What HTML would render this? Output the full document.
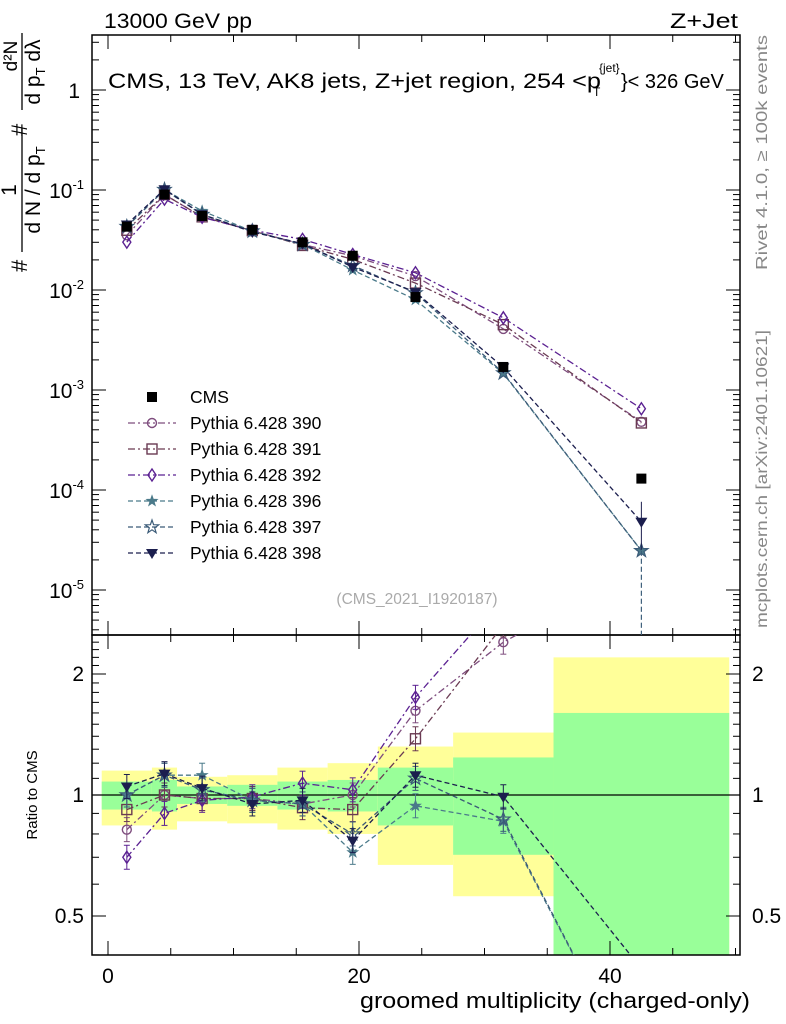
<!DOCTYPE html>
<html><head><meta charset="utf-8">
<style>
html,body{margin:0;padding:0;background:#fff;overflow:hidden;width:786px;height:1024px;}
svg{display:block;}
svg text{font-family:"Liberation Sans",sans-serif;}
</style></head>
<body>
<svg id="c" width="786" height="1024" viewBox="0 0 786 1024" xmlns="http://www.w3.org/2000/svg">
<text x="104" y="28" font-size="21" textLength="148" lengthAdjust="spacingAndGlyphs">13000 GeV pp</text>
<text x="670" y="28" font-size="21" textLength="68" lengthAdjust="spacingAndGlyphs">Z+Jet</text>
<g>
<text x="108" y="88" font-size="21" textLength="493" lengthAdjust="spacingAndGlyphs">CMS, 13 TeV, AK8 jets, Z+jet region, 254 &lt;p</text>
<text x="593" y="96" font-size="12">T</text>
<text x="599" y="72" font-size="12">{jet}</text>
<text x="621" y="88" font-size="20" font-weight="bold" style="font-weight:normal">}&lt; 326 GeV</text>
</g>
<text transform="translate(767,270) rotate(-90)" font-size="16" fill="#888" textLength="235" lengthAdjust="spacingAndGlyphs">Rivet 4.1.0, ≥ 100k events</text>
<text transform="translate(767,628) rotate(-90)" font-size="16" fill="#888" textLength="298" lengthAdjust="spacingAndGlyphs">mcplots.cern.ch [arXiv:2401.10621]</text>
<text x="417" y="604" font-size="15.5" fill="#aaa" text-anchor="middle">(CMS_2021_I1920187)</text>
<g>
<text transform="translate(27,272) rotate(-90)" font-size="22">#</text>
<text transform="translate(16,190) rotate(-90)" font-size="21" text-anchor="middle">1</text>
<line x1="22" y1="128" x2="22" y2="252" stroke="#000" stroke-width="1.3"/>
<text transform="translate(40,190) rotate(-90)" font-size="21" text-anchor="middle">d N / d p<tspan font-size="13" dy="5">T</tspan></text>
<text transform="translate(27,136) rotate(-90)" font-size="22">#</text>
<text transform="translate(17,56) rotate(-90)" font-size="19" text-anchor="middle">d²N</text>
<line x1="22" y1="33" x2="22" y2="110" stroke="#000" stroke-width="1.3"/>
<text transform="translate(40,72) rotate(-90)" font-size="21" text-anchor="middle">d p<tspan font-size="13" dy="5">T</tspan><tspan dy="-5"> dλ</tspan></text>
</g>
<text transform="translate(37,795) rotate(-90)" font-size="15" text-anchor="middle">Ratio to CMS</text>
<text x="360" y="1008" font-size="22" textLength="390" lengthAdjust="spacingAndGlyphs">groomed multiplicity (charged-only)</text>
<g id="g"></g>
</svg>
<script>
const centers=[1.5,4.5,7.5,11.5,15.5,19.5,24.5,31.5,42.5];
const edges=[-0.5,3.5,5.5,9.5,13.5,17.5,21.5,27.5,35.5,49.5];
const cms=[0.043,0.090,0.055,0.040,0.030,0.022,0.0085,0.0017,0.00013];
const r390=[0.82,1.0,0.98,0.98,0.95,1.0,1.62,2.4,3.7];
const r391=[0.92,1.0,0.98,0.98,0.93,0.92,1.38,2.65,3.6];
const r392=[0.70,0.90,0.97,0.99,1.07,1.03,1.75,3.1,5.0];
const r396=[1.0,1.12,1.12,0.97,0.95,0.72,0.94,0.86,0.19];
const r397=[1.0,1.12,1.03,0.97,0.95,0.80,1.10,0.87,0.19];
const r398=[1.05,1.13,1.04,0.95,0.97,0.77,1.12,0.99,0.37];
const yelUp=[1.15,1.17,1.11,1.12,1.17,1.20,1.32,1.43,2.2];
const yelLo=[0.84,0.82,0.86,0.85,0.82,0.80,0.67,0.56,0.3];
const grnUp=[1.08,1.09,1.05,1.06,1.08,1.09,1.17,1.24,1.6];
const grnLo=[0.92,0.91,0.95,0.94,0.92,0.91,0.84,0.71,0.3];
const yTicks=["10<tspan font-size='13' dy='-9'>-5</tspan>","10<tspan font-size='13' dy='-9'>-4</tspan>","10<tspan font-size='13' dy='-9'>-3</tspan>","10<tspan font-size='13' dy='-9'>-2</tspan>","10<tspan font-size='13' dy='-9'>-1</tspan>","1"];
const NS="http://www.w3.org/2000/svg",G=document.getElementById('g');
const L=92,R=740,T=35,MB=635,RB=955;
const X=v=>108+v*12.55;
const Y=v=>90-100*Math.log10(v);
const YR=v=>795-121*Math.log2(v);
function el(t,a,p){const e=document.createElementNS(NS,t);for(const k in a)e.setAttribute(k,a[k]);(p||G).appendChild(e);return e;}
const defs=el('defs',{});
const c1=el('clipPath',{id:'cm'},defs);el('rect',{x:L,y:T,width:R-L,height:MB-T},c1);
const c2=el('clipPath',{id:'cr'},defs);el('rect',{x:L,y:MB,width:R-L,height:RB-MB},c2);
const clamp=v=>Math.max(0.3,Math.min(3,v));
const bands=el('g',{'clip-path':'url(#cr)'});


for(let i=0;i<9;i++){
 const x0=X(edges[i]),x1=X(edges[i+1]);
 const b=el('rect',{x:x0,y:YR(yelUp[i]),width:x1-x0,height:YR(clamp(yelLo[i]))-YR(yelUp[i]),fill:'#ffff99'},bands);
 
 
 const g2=el('rect',{x:x0,y:YR(grnUp[i]),width:x1-x0,height:YR(clamp(grnLo[i]))-YR(grnUp[i]),fill:'#99ff99'},bands);
 
 
}
el('line',{x1:L,x2:R,y1:YR(1),y2:YR(1),stroke:'#000','stroke-width':1.2});
el('rect',{x:L,y:T,width:R-L,height:MB-T,fill:'none',stroke:'#000','stroke-width':1.5});
el('rect',{x:L,y:MB,width:R-L,height:RB-MB,fill:'none',stroke:'#000','stroke-width':1.5});
for(let v=0;v<=50;v+=5){const x=X(v),maj=v%20==0,len=maj?14:7;
 for(const[y0,d] of [[T,1],[MB,-1],[MB,1],[RB,-1]]) el('line',{x1:x,x2:x,y1:y0,y2:y0+d*len,stroke:'#000'});
 if(maj){const t=el('text',{x:x,y:983,'font-size':21,'text-anchor':'middle'});t.textContent=v;
 
 }
}
for(let e=-6;e<=0;e++){for(let m=1;m<10;m++){const v=m*Math.pow(10,e),y=Y(v);if(y<T||y>MB)continue;const len=m==1?14:7;
 el('line',{x1:L,x2:L+len,y1:y,y2:y,stroke:'#000'});el('line',{x1:R,x2:R-len,y1:y,y2:y,stroke:'#000'});}}
yTicks.forEach((s,i)=>{const t=el('text',{x:i==5?80:84,y:Y(Math.pow(10,i-5))+8,'font-size':21,'text-anchor':'end'});t.innerHTML=s;
 
 });
for(const v of [0.4,0.5,0.6,0.7,0.8,0.9,1,1.1,1.2,1.3,1.4,1.5,1.6,1.7,1.8,1.9,2,2.1,2.2,2.3,2.4]){const y=YR(v);const maj=[0.5,1,2].includes(v);const len=maj?14:7;
 el('line',{x1:L,x2:L+len,y1:y,y2:y,stroke:'#000'});el('line',{x1:R,x2:R-len,y1:y,y2:y,stroke:'#000'});
 if(maj){for(const [x,a] of [[84,'end'],[752,'start']]){const t=el('text',{x:x,y:y+7,'font-size':21,'text-anchor':a});t.textContent=v;
 
 }}}
const series=[
 {n:'390',r:r390,c:'#7e4d7e',m:'circle',d:'7,3,2,3'},
 {n:'391',r:r391,c:'#6a3a52',m:'square',d:'7,3,2,3'},
 {n:'392',r:r392,c:'#5b2192',m:'diamond',d:'7,3,2,3'},
 {n:'396',r:r396,c:'#4b7a8a',m:'star',d:'5,3'},
 {n:'397',r:r397,c:'#3b5b78',m:'star2',d:'5,3'},
 {n:'398',r:r398,c:'#1b1e4e',m:'tri',d:'5,3'}];
function marker(type,x,y,c,p){
 if(type=='circle')return el('circle',{cx:x,cy:y,r:4.5,fill:'none',stroke:c,'stroke-width':1.4},p);
 if(type=='square')return el('rect',{x:x-5,y:y-5,width:10,height:10,fill:'none',stroke:c,'stroke-width':1.4},p);
 if(type=='diamond')return el('polygon',{points:`${x},${y-6} ${x+4},${y} ${x},${y+6} ${x-4},${y}`,fill:'none',stroke:c,'stroke-width':1.4},p);
 if(type=='tri')return el('polygon',{points:`${x-6},${y-4} ${x+6},${y-4} ${x},${y+6}`,fill:c},p);
 if(type=='blk')return el('rect',{x:x-5,y:y-5,width:10,height:10,fill:'#000'},p);
 const rr=type=='star'?5:7,pts=[];for(let k=0;k<10;k++){const a=-Math.PI/2+k*Math.PI/5,q=k%2?rr*0.4:rr;pts.push((x+q*Math.cos(a)).toFixed(1)+','+(y+q*Math.sin(a)).toFixed(1));}
 return el('polygon',{points:pts.join(' '),fill:type=='star'?c:'none',stroke:c,'stroke-width':1.2},p);
}
series.forEach((s,si)=>{
 const gm=el('g',{'clip-path':'url(#cm)'});
 
 
 const gr=el('g',{'clip-path':'url(#cr)'});
 
 
 const pm=centers.map((c,i)=>X(c)+','+Y(s.r[i]*cms[i]).toFixed(1)).join(' ');
 el('polyline',{points:pm,fill:'none',stroke:s.c,'stroke-width':1.3,'stroke-dasharray':s.d},gm);
 const pr=centers.map((c,i)=>X(c)+','+YR(s.r[i]).toFixed(1)).join(' ');
 el('polyline',{points:pr,fill:'none',stroke:s.c,'stroke-width':1.3,'stroke-dasharray':s.d},gr);
 centers.forEach((c,i)=>{
  const ym=Y(s.r[i]*cms[i]),yr=YR(s.r[i]);
  el('line',{x1:X(c),x2:X(c),y1:yr-12,y2:yr+12,stroke:s.c},gr);
  el('line',{x1:X(c)-3,x2:X(c)+3,y1:yr-12,y2:yr-12,stroke:s.c},gr);
  el('line',{x1:X(c)-3,x2:X(c)+3,y1:yr+12,y2:yr+12,stroke:s.c},gr);
  const a=marker(s.m,X(c),ym,s.c,gm);
  
  
  const b=marker(s.m,X(c),yr,s.c,gr);
  
  
 });
 if(s.n=='396'||s.n=='397'){el('line',{x1:X(42.5),x2:X(42.5),y1:Y(s.r[8]*cms[8]),y2:MB,stroke:s.c,'stroke-dasharray':'5,3'},gm);}
 if(s.n=='398'){const y=Y(s.r[8]*cms[8]);el('line',{x1:X(42.5),x2:X(42.5),y1:y-20,y2:y+28,stroke:s.c},gm);}
 const ly=397+26*(si+1);
 const lg=el('g',{});
 
 
 el('line',{x1:128,x2:176,y1:ly,y2:ly,stroke:s.c,'stroke-width':1.3,'stroke-dasharray':s.d},lg);
 marker(s.m,152,ly,s.c,lg);
 const t=el('text',{x:190,y:ly+6,'font-size':17.5},lg);t.textContent='Pythia 6.428 '+s.n;
});
const gd=el('g',{'clip-path':'url(#cm)'});


centers.forEach((c,i)=>{const p=marker('blk',X(c),Y(cms[i]),'#000',gd);
 
 });
const lc=el('g',{});


marker('blk',152,397,'#000',lc);
const tc=el('text',{x:190,y:403,'font-size':17.5},lc);tc.textContent='CMS';
</script>
</body></html>
